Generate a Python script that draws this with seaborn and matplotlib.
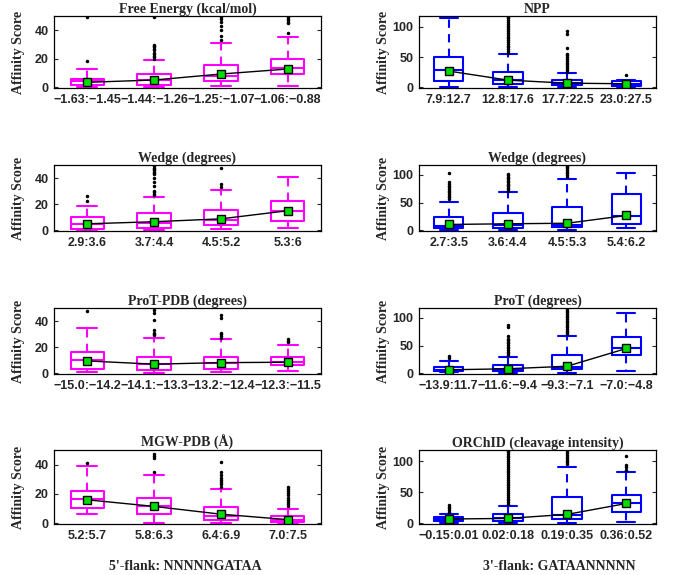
import numpy as np
import pandas as pd
import seaborn as sns
import matplotlib.pyplot as plt

# each box: [lower whisker, q1, median, q3, upper whisker]
fe_labels = ['−1.63:−1.45', '−1.44:−1.26', '−1.25:−1.07', '−1.06:−0.88']
fe_box = [[0.5, 1.9, 4.2, 6.0, 12.8], [0.2, 1.9, 4.9, 9.0, 19.0],
          [0.7, 4.6, 8.0, 15.3, 31.0], [1.2, 9.5, 13.3, 20.0, 35.0]]
fe_mean = [3.5, 5.1, 9.3, 12.8]
fe_out = [[18.6, 49.5], [20, 21, 22, 23, 24, 26, 27, 28, 29, 30, 49.5],
          [33, 36, 40, 43, 46, 48, 49.5], [38, 45, 46, 47, 48, 49.5]]

npp_labels = ['7.9:12.7', '12.8:17.6', '17.7:22.5', '23.0:27.5']
npp_box = [[1, 11, 28.6, 51, 114], [0.5, 6, 11.5, 26, 55],
           [0.5, 3.3, 7, 12.6, 23.6], [0.5, 2.7, 6, 11, 12.6]]
npp_mean = [27, 12, 7, 6]
npp_out = [[], [57, 60, 63, 66, 69, 72, 75, 78, 81, 84, 87, 90, 93, 96, 99, 102, 105, 108, 111, 114, 117],
           [26, 29, 32, 35, 38, 41, 44, 47, 50, 53, 56, 65, 89, 94], [20]]

w5_labels = ['2.9:3.6', '3.7:4.4', '4.5:5.2', '5.3:6']
w5_box = [[0.5, 1.3, 5.2, 10.3, 18.3], [0.5, 2.0, 6.0, 12.9, 25.8],
          [0.8, 4.4, 8.2, 15.5, 31.0], [1.8, 7.0, 15.0, 22.4, 41.0]]
w5_mean = [5.0, 6.6, 8.8, 15.0]
w5_out = [[22.5, 26], [27, 28, 29, 30, 34, 37, 40, 43, 44, 45, 46, 47, 48, 49.5],
          [33.5, 35.5, 48], []]

w3_labels = ['2.7:3.5', '3.6:4.4', '4.5:5.3', '5.4:6.2']
w3_box = [[1, 4.8, 7.8, 25, 52], [1, 5, 9.6, 32, 69],
          [1, 5.4, 9, 43, 93], [5, 12, 26, 65, 104]]
w3_mean = [10.8, 12, 13, 27]
w3_out = [[57, 60, 63, 66, 69, 72, 75, 78, 81, 84, 87, 103],
          [72, 74.5, 77, 79.5, 82, 84.5, 87, 89.5, 92, 94.5, 97, 99.5, 102],
          [97, 100, 103, 106, 109, 112, 115, 117], []]

pp_labels = ['−15.0:−14.2', '−14.1:−13.3', '−13.2:−12.4', '−12.3:−11.5']
pp_box = [[1, 3.6, 10.3, 16.7, 35], [0.5, 2.3, 7, 12.6, 27],
          [0.7, 3, 7.7, 12.6, 26], [1.8, 6.2, 9, 12.8, 22]]
pp_mean = [9.5, 7.0, 8.2, 8.5]
pp_out = [[48], [29, 30, 31, 33, 41, 46.5, 48.5], [27, 28.5, 30, 31, 42, 45], [24, 25, 26]]

pt_labels = ['−13.9:11.7', '−11.6:−9.4', '−9.3:−7.1', '−7.0:−4.8']
pt_box = [[2, 3.6, 6.6, 10.8, 22], [1, 4.8, 8.4, 15, 30],
          [1, 7.8, 12, 32.5, 68], [5, 34, 46, 65, 109]]
pt_mean = [6.6, 8.4, 13, 45]
pt_out = [[27, 31], [33, 36, 39, 42, 45, 48, 51, 54, 57, 60, 63, 68, 84, 87],
          [71, 74, 77, 80, 83, 86, 89, 92, 95, 98, 101, 104, 107, 110, 113, 116], []]

mg_labels = ['5.2:5.7', '5.8:6.3', '6.4:6.9', '7.0:7.5']
mg_box = [[6.2, 10.3, 16.3, 22.3, 39], [0.5, 6.4, 11.7, 17.2, 33],
          [0.3, 2.3, 5.3, 11, 23.4], [0.1, 0.7, 2.3, 5, 10]]
mg_mean = [16, 11.5, 6.2, 2.5]
mg_out = [[41], [35, 44.5, 46, 47.5], [25, 26.5, 28, 29.5, 31, 33, 35, 41.5],
          [11.5, 13, 14.5, 16, 17.5, 19, 20.5, 22, 23.5, 25]]

oc_labels = ['−0.15:0.01', '0.02:0.18', '0.19:0.35', '0.36:0.52']
oc_box = [[1, 3.8, 7, 10.8, 15], [0.5, 4.3, 8, 14.5, 28],
          [1, 7.5, 14, 42, 91], [2.7, 19, 32, 46, 82]]
oc_mean = [7, 8, 14.5, 32]
oc_out = [[18, 21, 24, 27, 30],
          [31, 34, 37, 40, 43, 46, 49, 52, 55, 58, 61, 64, 67, 70, 73, 76, 79, 82, 85, 88, 91, 94, 97, 100, 103, 106, 109, 112, 115, 117],
          [95, 98, 101, 104, 107, 110, 113, 116], [86, 90, 94, 108]]

sns.set_style('ticks')
plt.rcParams['font.family'] = ['Liberation Sans', 'DejaVu Sans']

W, H = 673, 575
fig = plt.figure(figsize=(W / 100, H / 100), dpi=100)

MAG = '#ff00ff'
BLU = '#0000ff'


def panel(rect, labels, box, mean, out, color, ytop, yticks, title):
    x0, y0, x1, y1 = rect
    ax = fig.add_axes([x0 / W, 1 - y1 / H, (x1 - x0) / W, (y1 - y0) / H])
    stats = [dict(whislo=b[0], q1=b[1], med=b[2], q3=b[3], whishi=b[4], fliers=f)
             for b, f in zip(box, out)]
    lw = 1.5
    ax.bxp(stats, positions=[1, 2, 3, 4], widths=0.5, capwidths=0.3,
           boxprops=dict(color=color, lw=lw),
           whiskerprops=dict(color=color, lw=lw, ls=(0, (4, 3))),
           capprops=dict(color=color, lw=lw),
           medianprops=dict(color=color, lw=lw),
           flierprops=dict(marker='.', markersize=3, markerfacecolor='black',
                           markeredgecolor='black', linestyle='none'))
    sns.lineplot(x=[1, 2, 3, 4], y=mean, ax=ax, color='black', lw=1, marker='s',
                 markersize=5.5, markerfacecolor='#00dd00', markeredgecolor='black',
                 markeredgewidth=1, zorder=5)
    ax.set_xlim(0.5, 4.5)
    ax.set_ylim(ytop[0], ytop[1])
    ax.set_yticks(yticks)
    ax.set_xticks([1, 2, 3, 4])
    ax.set_xticklabels(labels, fontsize=9, fontweight='bold')
    ax.set_yticklabels([str(t) for t in yticks], fontsize=9, fontweight='bold')
    ax.tick_params(axis='x', length=0, pad=4)
    ax.tick_params(axis='y', direction='in', length=3, right=True, pad=4)
    for s in ax.spines.values():
        s.set_linewidth(0.9)
        s.set_color('black')
    ax.set_title(title, fontsize=10, fontweight='bold', family='Liberation Serif', pad=2)
    ax.set_ylabel('Affinity Score', fontsize=10, fontweight='bold',
                  family='Liberation Serif', va='center')
    ax.yaxis.set_label_coords(-36 / (x1 - x0), 0.5)
    return ax


L = (54, 321)
R = (419, 656)
rows = [(16, 88), (165, 231), (308, 374), (450, 524)]
lt = (-0.5, 50)
rt = (-1, 118)

panel((L[0], rows[0][0], L[1], rows[0][1]), fe_labels, fe_box, fe_mean, fe_out, MAG, lt, [0, 20, 40], 'Free Energy (kcal/mol)')
panel((R[0], rows[0][0], R[1], rows[0][1]), npp_labels, npp_box, npp_mean, npp_out, BLU, rt, [0, 50, 100], 'NPP')
panel((L[0], rows[1][0], L[1], rows[1][1]), w5_labels, w5_box, w5_mean, w5_out, MAG, lt, [0, 20, 40], 'Wedge (degrees)')
panel((R[0], rows[1][0], R[1], rows[1][1]), w3_labels, w3_box, w3_mean, w3_out, BLU, rt, [0, 50, 100], 'Wedge (degrees)')
panel((L[0], rows[2][0], L[1], rows[2][1]), pp_labels, pp_box, pp_mean, pp_out, MAG, lt, [0, 20, 40], 'ProT-PDB (degrees)')
panel((R[0], rows[2][0], R[1], rows[2][1]), pt_labels, pt_box, pt_mean, pt_out, BLU, rt, [0, 50, 100], 'ProT (degrees)')
panel((L[0], rows[3][0], L[1], rows[3][1]), mg_labels, mg_box, mg_mean, mg_out, MAG, lt, [0, 20, 40], 'MGW-PDB (Å)')
panel((R[0], rows[3][0], R[1], rows[3][1]), oc_labels, oc_box, oc_mean, oc_out, BLU, rt, [0, 50, 100], 'ORChID (cleavage intensity)')

fig.text(185 / W, 1 - 567 / H, "5'-flank: NNNNNGATAA", ha='center', va='center',
         fontsize=10, fontweight='bold', family='Liberation Serif')
fig.text(559 / W, 1 - 567 / H, "3'-flank: GATAANNNNN", ha='center', va='center',
         fontsize=10, fontweight='bold', family='Liberation Serif')

fig.savefig('out.png', dpi=100)
